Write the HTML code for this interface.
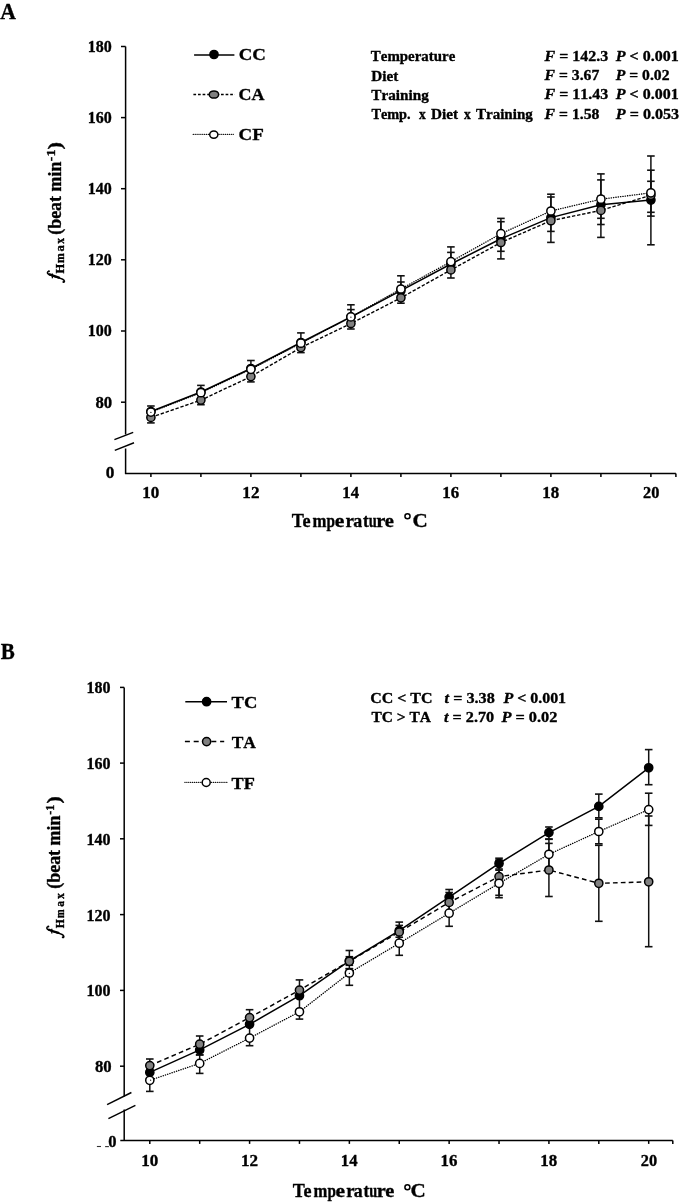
<!DOCTYPE html>
<html><head><meta charset="utf-8"><style>
html,body{margin:0;padding:0;background:#fff;}
body{width:684px;height:1203px;overflow:hidden;}
svg{display:block;will-change:transform;font-family:"Liberation Serif",serif;font-kerning:none;}
text{fill:#000;white-space:pre;stroke:#000;stroke-width:0.35;stroke-linejoin:round;}
.ax{stroke:#000;stroke-width:1.5;fill:none;}
.eb{stroke:#111;stroke-width:1.5;fill:none;}
.cap{stroke:#111;stroke-width:1.6;fill:none;}
.lk{stroke:#000;stroke-width:1.5;fill:none;}
.lg{stroke:#000;stroke-width:1.4;fill:none;stroke-dasharray:3.4 1.8;}
.lw{stroke:#000;stroke-width:1.35;fill:none;stroke-dasharray:0.25 2.1;stroke-linecap:round;}
.lgb{stroke:#000;stroke-width:1.45;fill:none;stroke-dasharray:4.7 3.2;}
.lgl{stroke:#000;stroke-width:1.4;fill:none;stroke-dasharray:2.7 1.9;}
.lwl{stroke:#000;stroke-width:1.3;fill:none;stroke-dasharray:0.2 1.7;stroke-linecap:round;}
.lglb{stroke:#000;stroke-width:1.4;fill:none;stroke-dasharray:5 3.8;}
.mk{fill:#000;stroke:#000;stroke-width:1.5;}
.mg{fill:#808080;stroke:#000;stroke-width:1.5;}
.mw{fill:#fff;stroke:#000;stroke-width:1.5;}
</style></head><body>
<svg width="684" height="1203" viewBox="0 0 684 1203">
<path d="M125.60 46.50 V434.50" class="ax"/>
<path d="M125.60 448.50 V473.40" class="ax"/>
<path d="M114.40 439.60 L133.20 432.40" class="ax"/>
<path d="M114.80 450.40 L134.00 442.80" class="ax"/>
<path d="M121.00 46.50 H125.60" class="ax"/>
<path d="M121.00 117.60 H125.60" class="ax"/>
<path d="M121.00 188.70 H125.60" class="ax"/>
<path d="M121.00 259.80 H125.60" class="ax"/>
<path d="M121.00 331.00 H125.60" class="ax"/>
<path d="M121.00 402.20 H125.60" class="ax"/>
<path d="M124.90 473.40 H675.90" class="ax"/>
<path d="M150.90 473.40 V477.00" class="ax"/>
<path d="M200.90 473.40 V477.00" class="ax"/>
<path d="M250.90 473.40 V477.00" class="ax"/>
<path d="M300.90 473.40 V477.00" class="ax"/>
<path d="M350.90 473.40 V477.00" class="ax"/>
<path d="M400.90 473.40 V477.00" class="ax"/>
<path d="M450.90 473.40 V477.00" class="ax"/>
<path d="M500.90 473.40 V477.00" class="ax"/>
<path d="M550.90 473.40 V477.00" class="ax"/>
<path d="M600.90 473.40 V477.00" class="ax"/>
<path d="M650.90 473.40 V477.00" class="ax"/>
<path d="M675.90 473.40 V477.00" class="ax"/>
<path d="M150.90 406.00 V418.00" class="eb"/>
<path d="M147.10 406.00 H154.70" class="cap"/>
<path d="M147.10 418.00 H154.70" class="cap"/>
<path d="M150.90 412.00 V422.90" class="eb"/>
<path d="M147.10 412.00 H154.70" class="cap"/>
<path d="M147.10 422.90 H154.70" class="cap"/>
<path d="M200.90 385.40 V400.00" class="eb"/>
<path d="M197.10 385.40 H204.70" class="cap"/>
<path d="M197.10 400.00 H204.70" class="cap"/>
<path d="M200.90 395.50 V404.70" class="eb"/>
<path d="M197.10 395.50 H204.70" class="cap"/>
<path d="M197.10 404.70 H204.70" class="cap"/>
<path d="M250.90 360.50 V378.00" class="eb"/>
<path d="M247.10 360.50 H254.70" class="cap"/>
<path d="M247.10 378.00 H254.70" class="cap"/>
<path d="M250.90 371.30 V381.90" class="eb"/>
<path d="M247.10 371.30 H254.70" class="cap"/>
<path d="M247.10 381.90 H254.70" class="cap"/>
<path d="M300.90 332.90 V352.60" class="eb"/>
<path d="M297.10 332.90 H304.70" class="cap"/>
<path d="M297.10 352.60 H304.70" class="cap"/>
<path d="M350.90 304.80 V329.00" class="eb"/>
<path d="M347.10 304.80 H354.70" class="cap"/>
<path d="M347.10 329.00 H354.70" class="cap"/>
<path d="M350.90 309.60 V324.40" class="eb"/>
<path d="M347.10 309.60 H354.70" class="cap"/>
<path d="M347.10 324.40 H354.70" class="cap"/>
<path d="M400.90 275.80 V303.20" class="eb"/>
<path d="M397.10 275.80 H404.70" class="cap"/>
<path d="M397.10 303.20 H404.70" class="cap"/>
<path d="M400.90 282.00 V299.40" class="eb"/>
<path d="M397.10 282.00 H404.70" class="cap"/>
<path d="M397.10 299.40 H404.70" class="cap"/>
<path d="M450.90 246.90 V278.00" class="eb"/>
<path d="M447.10 246.90 H454.70" class="cap"/>
<path d="M447.10 278.00 H454.70" class="cap"/>
<path d="M450.90 252.40 V271.00" class="eb"/>
<path d="M447.10 252.40 H454.70" class="cap"/>
<path d="M447.10 271.00 H454.70" class="cap"/>
<path d="M500.90 218.40 V251.30" class="eb"/>
<path d="M497.10 218.40 H504.70" class="cap"/>
<path d="M497.10 251.30 H504.70" class="cap"/>
<path d="M500.90 221.70 V258.90" class="eb"/>
<path d="M497.10 221.70 H504.70" class="cap"/>
<path d="M497.10 258.90 H504.70" class="cap"/>
<path d="M550.90 194.20 V231.40" class="eb"/>
<path d="M547.10 194.20 H554.70" class="cap"/>
<path d="M547.10 231.40 H554.70" class="cap"/>
<path d="M550.90 197.00 V242.40" class="eb"/>
<path d="M547.10 197.00 H554.70" class="cap"/>
<path d="M547.10 242.40 H554.70" class="cap"/>
<path d="M600.90 173.90 V237.40" class="eb"/>
<path d="M597.10 173.90 H604.70" class="cap"/>
<path d="M597.10 237.40 H604.70" class="cap"/>
<path d="M600.90 179.90 V218.30" class="eb"/>
<path d="M597.10 179.90 H604.70" class="cap"/>
<path d="M597.10 218.30 H604.70" class="cap"/>
<path d="M600.90 196.30 V224.50" class="eb"/>
<path d="M597.10 196.30 H604.70" class="cap"/>
<path d="M597.10 224.50 H604.70" class="cap"/>
<path d="M650.90 156.00 V244.80" class="eb"/>
<path d="M647.10 156.00 H654.70" class="cap"/>
<path d="M647.10 244.80 H654.70" class="cap"/>
<path d="M650.90 170.20 V216.10" class="eb"/>
<path d="M647.10 170.20 H654.70" class="cap"/>
<path d="M647.10 216.10 H654.70" class="cap"/>
<path d="M650.90 181.30 V212.30" class="eb"/>
<path d="M647.10 181.30 H654.70" class="cap"/>
<path d="M647.10 212.30 H654.70" class="cap"/>
<polyline points="150.90,411.50 200.90,392.00 250.90,368.50 300.90,342.50 350.90,317.00 400.90,290.70 450.90,264.00 500.90,238.80 550.90,217.60 600.90,204.80 650.90,200.10" class="lk"/>
<polyline points="150.90,417.40 200.90,400.10 250.90,376.60 300.90,347.60 350.90,323.50 400.90,297.80 450.90,269.90 500.90,242.50 550.90,220.70 600.90,210.40 650.90,195.30" class="lg"/>
<polyline points="150.90,412.10 200.90,392.70 250.90,369.30 300.90,343.20 350.90,316.90 400.90,289.00 450.90,261.60 500.90,233.70 550.90,211.00 600.90,199.20 650.90,192.80" class="lw"/>
<circle cx="150.90" cy="411.50" r="4.10" class="mk"/>
<circle cx="200.90" cy="392.00" r="4.10" class="mk"/>
<circle cx="250.90" cy="368.50" r="4.10" class="mk"/>
<circle cx="300.90" cy="342.50" r="4.10" class="mk"/>
<circle cx="350.90" cy="317.00" r="4.10" class="mk"/>
<circle cx="400.90" cy="290.70" r="4.10" class="mk"/>
<circle cx="450.90" cy="264.00" r="4.10" class="mk"/>
<circle cx="500.90" cy="238.80" r="4.10" class="mk"/>
<circle cx="550.90" cy="217.60" r="4.10" class="mk"/>
<circle cx="600.90" cy="204.80" r="4.10" class="mk"/>
<circle cx="650.90" cy="200.10" r="4.10" class="mk"/>
<circle cx="150.90" cy="417.40" r="4.10" class="mg"/>
<circle cx="200.90" cy="400.10" r="4.10" class="mg"/>
<circle cx="250.90" cy="376.60" r="4.10" class="mg"/>
<circle cx="300.90" cy="347.60" r="4.10" class="mg"/>
<circle cx="350.90" cy="323.50" r="4.10" class="mg"/>
<circle cx="400.90" cy="297.80" r="4.10" class="mg"/>
<circle cx="450.90" cy="269.90" r="4.10" class="mg"/>
<circle cx="500.90" cy="242.50" r="4.10" class="mg"/>
<circle cx="550.90" cy="220.70" r="4.10" class="mg"/>
<circle cx="600.90" cy="210.40" r="4.10" class="mg"/>
<circle cx="650.90" cy="195.30" r="4.10" class="mg"/>
<circle cx="150.90" cy="412.10" r="4.10" class="mw"/>
<circle cx="200.90" cy="392.70" r="4.10" class="mw"/>
<circle cx="250.90" cy="369.30" r="4.10" class="mw"/>
<circle cx="300.90" cy="343.20" r="4.10" class="mw"/>
<circle cx="350.90" cy="316.90" r="4.10" class="mw"/>
<circle cx="400.90" cy="289.00" r="4.10" class="mw"/>
<circle cx="450.90" cy="261.60" r="4.10" class="mw"/>
<circle cx="500.90" cy="233.70" r="4.10" class="mw"/>
<circle cx="550.90" cy="211.00" r="4.10" class="mw"/>
<circle cx="600.90" cy="199.20" r="4.10" class="mw"/>
<circle cx="650.90" cy="192.80" r="4.10" class="mw"/>
<path d="M194.10 55.00 H234.40" class="lk"/>
<ellipse cx="214.00" cy="54.50" rx="4.10" ry="4.10" class="mk"/>
<text x="238.68" y="59.90" font-size="17.50" style="font-weight:bold;" textLength="27.15" lengthAdjust="spacingAndGlyphs">CC</text>
<path d="M193.40 94.50 H234.90" class="lgl"/>
<ellipse cx="213.95" cy="94.50" rx="4.70" ry="3.60" class="mg"/>
<text x="238.62" y="99.90" font-size="17.50" style="font-weight:bold;" textLength="25.91" lengthAdjust="spacingAndGlyphs">CA</text>
<path d="M193.20 134.30 H233.70" class="lwl"/>
<ellipse cx="213.80" cy="134.60" rx="4.10" ry="3.70" class="mw"/>
<text x="238.58" y="139.70" font-size="17.50" style="font-weight:bold;" textLength="25.23" lengthAdjust="spacingAndGlyphs">CF</text>
<path d="M124.20 687.40 V1096.50" class="ax"/>
<path d="M124.20 1109.50 V1140.50" class="ax"/>
<path d="M107.10 1104.60 L131.40 1092.50" class="ax"/>
<path d="M108.40 1118.60 L135.40 1105.40" class="ax"/>
<path d="M120.00 687.40 H124.20" class="ax"/>
<path d="M120.00 763.10 H124.20" class="ax"/>
<path d="M120.00 838.80 H124.20" class="ax"/>
<path d="M120.00 914.60 H124.20" class="ax"/>
<path d="M120.00 990.40 H124.20" class="ax"/>
<path d="M120.00 1066.20 H124.20" class="ax"/>
<path d="M120.30 1140.50 H672.80" class="ax"/>
<path d="M149.80 1140.50 V1143.90" class="ax"/>
<path d="M199.69 1140.50 V1143.90" class="ax"/>
<path d="M249.58 1140.50 V1143.90" class="ax"/>
<path d="M299.47 1140.50 V1143.90" class="ax"/>
<path d="M349.36 1140.50 V1143.90" class="ax"/>
<path d="M399.25 1140.50 V1143.90" class="ax"/>
<path d="M449.14 1140.50 V1143.90" class="ax"/>
<path d="M499.03 1140.50 V1143.90" class="ax"/>
<path d="M548.92 1140.50 V1143.90" class="ax"/>
<path d="M598.81 1140.50 V1143.90" class="ax"/>
<path d="M648.70 1140.50 V1143.90" class="ax"/>
<path d="M672.80 1140.50 V1143.90" class="ax"/>
<path d="M149.80 1059.00 V1072.20" class="eb"/>
<path d="M146.00 1059.00 H153.60" class="cap"/>
<path d="M146.00 1072.20 H153.60" class="cap"/>
<path d="M149.80 1069.30 V1091.40" class="eb"/>
<path d="M146.00 1069.30 H153.60" class="cap"/>
<path d="M146.00 1091.40 H153.60" class="cap"/>
<path d="M199.69 1036.00 V1052.40" class="eb"/>
<path d="M195.89 1036.00 H203.49" class="cap"/>
<path d="M195.89 1052.40 H203.49" class="cap"/>
<path d="M199.69 1045.00 V1054.90" class="eb"/>
<path d="M195.89 1045.00 H203.49" class="cap"/>
<path d="M195.89 1054.90 H203.49" class="cap"/>
<path d="M199.69 1054.90 V1073.40" class="eb"/>
<path d="M195.89 1054.90 H203.49" class="cap"/>
<path d="M195.89 1073.40 H203.49" class="cap"/>
<path d="M249.58 1009.70 V1045.70" class="eb"/>
<path d="M245.78 1009.70 H253.38" class="cap"/>
<path d="M245.78 1045.70 H253.38" class="cap"/>
<path d="M299.47 979.90 V1019.10" class="eb"/>
<path d="M295.67 979.90 H303.27" class="cap"/>
<path d="M295.67 1019.10 H303.27" class="cap"/>
<path d="M349.36 950.50 V968.70" class="eb"/>
<path d="M345.56 950.50 H353.16" class="cap"/>
<path d="M345.56 968.70 H353.16" class="cap"/>
<path d="M349.36 956.70 V965.30" class="eb"/>
<path d="M345.56 956.70 H353.16" class="cap"/>
<path d="M345.56 965.30 H353.16" class="cap"/>
<path d="M349.36 968.70 V985.30" class="eb"/>
<path d="M345.56 968.70 H353.16" class="cap"/>
<path d="M345.56 985.30 H353.16" class="cap"/>
<path d="M399.25 922.10 V941.90" class="eb"/>
<path d="M395.45 922.10 H403.05" class="cap"/>
<path d="M395.45 941.90 H403.05" class="cap"/>
<path d="M399.25 925.40 V937.20" class="eb"/>
<path d="M395.45 925.40 H403.05" class="cap"/>
<path d="M395.45 937.20 H403.05" class="cap"/>
<path d="M399.25 931.10 V955.30" class="eb"/>
<path d="M395.45 931.10 H403.05" class="cap"/>
<path d="M395.45 955.30 H403.05" class="cap"/>
<path d="M449.14 889.50 V904.70" class="eb"/>
<path d="M445.34 889.50 H452.94" class="cap"/>
<path d="M445.34 904.70 H452.94" class="cap"/>
<path d="M449.14 892.50 V912.30" class="eb"/>
<path d="M445.34 892.50 H452.94" class="cap"/>
<path d="M445.34 912.30 H452.94" class="cap"/>
<path d="M449.14 900.10 V926.30" class="eb"/>
<path d="M445.34 900.10 H452.94" class="cap"/>
<path d="M445.34 926.30 H452.94" class="cap"/>
<path d="M499.03 858.20 V870.20" class="eb"/>
<path d="M495.23 858.20 H502.83" class="cap"/>
<path d="M495.23 870.20 H502.83" class="cap"/>
<path d="M499.03 860.00 V895.30" class="eb"/>
<path d="M495.23 860.00 H502.83" class="cap"/>
<path d="M495.23 895.30 H502.83" class="cap"/>
<path d="M499.03 869.00 V897.70" class="eb"/>
<path d="M495.23 869.00 H502.83" class="cap"/>
<path d="M495.23 897.70 H502.83" class="cap"/>
<path d="M548.92 827.00 V839.00" class="eb"/>
<path d="M545.12 827.00 H552.72" class="cap"/>
<path d="M545.12 839.00 H552.72" class="cap"/>
<path d="M548.92 839.30 V869.30" class="eb"/>
<path d="M545.12 839.30 H552.72" class="cap"/>
<path d="M545.12 869.30 H552.72" class="cap"/>
<path d="M548.92 843.40 V896.50" class="eb"/>
<path d="M545.12 843.40 H552.72" class="cap"/>
<path d="M545.12 896.50 H552.72" class="cap"/>
<path d="M598.81 794.10 V817.80" class="eb"/>
<path d="M595.01 794.10 H602.61" class="cap"/>
<path d="M595.01 817.80 H602.61" class="cap"/>
<path d="M598.81 819.20 V843.80" class="eb"/>
<path d="M595.01 819.20 H602.61" class="cap"/>
<path d="M595.01 843.80 H602.61" class="cap"/>
<path d="M598.81 845.30 V921.30" class="eb"/>
<path d="M595.01 845.30 H602.61" class="cap"/>
<path d="M595.01 921.30 H602.61" class="cap"/>
<path d="M648.70 749.60 V784.70" class="eb"/>
<path d="M644.90 749.60 H652.50" class="cap"/>
<path d="M644.90 784.70 H652.50" class="cap"/>
<path d="M648.70 793.20 V825.40" class="eb"/>
<path d="M644.90 793.20 H652.50" class="cap"/>
<path d="M644.90 825.40 H652.50" class="cap"/>
<path d="M648.70 816.00 V946.70" class="eb"/>
<path d="M644.90 816.00 H652.50" class="cap"/>
<path d="M644.90 946.70 H652.50" class="cap"/>
<polyline points="149.80,1072.40 199.69,1049.90 249.58,1024.30 299.47,995.70 349.36,961.00 399.25,930.70 449.14,897.10 499.03,863.50 548.92,832.60 598.81,806.40 648.70,767.80" class="lk"/>
<polyline points="149.80,1065.60 199.69,1044.20 249.58,1017.60 299.47,990.10 349.36,961.30 399.25,932.00 449.14,902.40 499.03,876.60 548.92,870.00 598.81,883.30 648.70,881.80" class="lgb"/>
<polyline points="149.80,1080.30 199.69,1063.40 249.58,1038.10 299.47,1011.80 349.36,973.00 399.25,943.20 449.14,913.20 499.03,883.30 548.92,854.30 598.81,831.50 648.70,809.60" class="lw"/>
<circle cx="149.80" cy="1072.40" r="4.10" class="mk"/>
<circle cx="199.69" cy="1049.90" r="4.10" class="mk"/>
<circle cx="249.58" cy="1024.30" r="4.10" class="mk"/>
<circle cx="299.47" cy="995.70" r="4.10" class="mk"/>
<circle cx="349.36" cy="961.00" r="4.10" class="mk"/>
<circle cx="399.25" cy="930.70" r="4.10" class="mk"/>
<circle cx="449.14" cy="897.10" r="4.10" class="mk"/>
<circle cx="499.03" cy="863.50" r="4.10" class="mk"/>
<circle cx="548.92" cy="832.60" r="4.10" class="mk"/>
<circle cx="598.81" cy="806.40" r="4.10" class="mk"/>
<circle cx="648.70" cy="767.80" r="4.10" class="mk"/>
<circle cx="149.80" cy="1065.60" r="4.10" class="mg"/>
<circle cx="199.69" cy="1044.20" r="4.10" class="mg"/>
<circle cx="249.58" cy="1017.60" r="4.10" class="mg"/>
<circle cx="299.47" cy="990.10" r="4.10" class="mg"/>
<circle cx="349.36" cy="961.30" r="4.10" class="mg"/>
<circle cx="399.25" cy="932.00" r="4.10" class="mg"/>
<circle cx="449.14" cy="902.40" r="4.10" class="mg"/>
<circle cx="499.03" cy="876.60" r="4.10" class="mg"/>
<circle cx="548.92" cy="870.00" r="4.10" class="mg"/>
<circle cx="598.81" cy="883.30" r="4.10" class="mg"/>
<circle cx="648.70" cy="881.80" r="4.10" class="mg"/>
<circle cx="149.80" cy="1080.30" r="4.10" class="mw"/>
<circle cx="199.69" cy="1063.40" r="4.10" class="mw"/>
<circle cx="249.58" cy="1038.10" r="4.10" class="mw"/>
<circle cx="299.47" cy="1011.80" r="4.10" class="mw"/>
<circle cx="349.36" cy="973.00" r="4.10" class="mw"/>
<circle cx="399.25" cy="943.20" r="4.10" class="mw"/>
<circle cx="449.14" cy="913.20" r="4.10" class="mw"/>
<circle cx="499.03" cy="883.30" r="4.10" class="mw"/>
<circle cx="548.92" cy="854.30" r="4.10" class="mw"/>
<circle cx="598.81" cy="831.50" r="4.10" class="mw"/>
<circle cx="648.70" cy="809.60" r="4.10" class="mw"/>
<path d="M185.30 701.70 H227.00" class="lk"/>
<ellipse cx="206.60" cy="701.70" rx="4.10" ry="4.10" class="mk"/>
<text x="231.61" y="707.50" font-size="17.50" style="font-weight:bold;" textLength="25.70" lengthAdjust="spacingAndGlyphs">TC</text>
<path d="M184.90 741.50 H224.20" class="lglb"/>
<ellipse cx="206.60" cy="741.60" rx="4.10" ry="4.10" class="mg"/>
<text x="231.63" y="748.00" font-size="17.50" style="font-weight:bold;" textLength="24.20" lengthAdjust="spacingAndGlyphs">TA</text>
<path d="M184.90 782.30 H227.50" class="lwl"/>
<ellipse cx="206.20" cy="782.50" rx="4.00" ry="3.90" class="mw"/>
<text x="231.62" y="788.90" font-size="17.50" style="font-weight:bold;" textLength="23.26" lengthAdjust="spacingAndGlyphs">TF</text>
<circle cx="150.90" cy="412.40" r="0.65" fill="#111"/>
<circle cx="350.90" cy="317.20" r="0.65" fill="#111"/>
<circle cx="150.60" cy="1080.20" r="0.65" fill="#111"/>
<circle cx="349.36" cy="973.40" r="0.65" fill="#111"/>
<path d="M96.9 1146.5 H101" stroke="#333" stroke-width="1.1"/>
<path d="M105.1 1146.6 H108.9" stroke="#333" stroke-width="1.1"/>
<text x="0.29" y="18.70" font-size="23.00" style="font-weight:bold;" textLength="15.67" lengthAdjust="spacingAndGlyphs">A</text>
<text x="0.85" y="659.30" font-size="23.00" style="font-weight:bold;" textLength="14.03" lengthAdjust="spacingAndGlyphs">B</text>
<text x="87.82" y="51.90" font-size="16.50" style="font-weight:bold;" textLength="23.99" lengthAdjust="spacingAndGlyphs">180</text>
<text x="87.82" y="123.00" font-size="16.50" style="font-weight:bold;" textLength="23.99" lengthAdjust="spacingAndGlyphs">160</text>
<text x="87.82" y="194.10" font-size="16.50" style="font-weight:bold;" textLength="23.99" lengthAdjust="spacingAndGlyphs">140</text>
<text x="87.82" y="265.20" font-size="16.50" style="font-weight:bold;" textLength="23.99" lengthAdjust="spacingAndGlyphs">120</text>
<text x="87.82" y="336.40" font-size="16.50" style="font-weight:bold;" textLength="23.99" lengthAdjust="spacingAndGlyphs">100</text>
<text x="95.45" y="407.60" font-size="16.50" style="font-weight:bold;" textLength="16.69" lengthAdjust="spacingAndGlyphs">80</text>
<text x="105.74" y="478.20" font-size="16.50" style="font-weight:bold;" textLength="8.61" lengthAdjust="spacingAndGlyphs">0</text>
<text x="86.62" y="693.30" font-size="16.50" style="font-weight:bold;" textLength="23.99" lengthAdjust="spacingAndGlyphs">180</text>
<text x="86.62" y="769.00" font-size="16.50" style="font-weight:bold;" textLength="23.99" lengthAdjust="spacingAndGlyphs">160</text>
<text x="86.62" y="844.70" font-size="16.50" style="font-weight:bold;" textLength="23.99" lengthAdjust="spacingAndGlyphs">140</text>
<text x="86.62" y="920.50" font-size="16.50" style="font-weight:bold;" textLength="23.99" lengthAdjust="spacingAndGlyphs">120</text>
<text x="86.62" y="996.30" font-size="16.50" style="font-weight:bold;" textLength="23.99" lengthAdjust="spacingAndGlyphs">100</text>
<text x="94.95" y="1072.10" font-size="16.50" style="font-weight:bold;" textLength="16.69" lengthAdjust="spacingAndGlyphs">80</text>
<text x="108.27" y="1146.80" font-size="16.50" style="font-weight:bold;" textLength="8.26" lengthAdjust="spacingAndGlyphs">0</text>
<text x="142.34" y="497.60" font-size="16.20" style="font-weight:bold;" textLength="17.01" lengthAdjust="spacingAndGlyphs">10</text>
<text x="242.33" y="497.60" font-size="16.20" style="font-weight:bold;" textLength="17.10" lengthAdjust="spacingAndGlyphs">12</text>
<text x="342.37" y="497.60" font-size="16.20" style="font-weight:bold;" textLength="16.64" lengthAdjust="spacingAndGlyphs">14</text>
<text x="442.35" y="497.60" font-size="16.20" style="font-weight:bold;" textLength="16.84" lengthAdjust="spacingAndGlyphs">16</text>
<text x="542.35" y="497.60" font-size="16.20" style="font-weight:bold;" textLength="16.92" lengthAdjust="spacingAndGlyphs">18</text>
<text x="643.02" y="497.60" font-size="16.20" style="font-weight:bold;" textLength="16.31" lengthAdjust="spacingAndGlyphs">20</text>
<text x="141.24" y="1165.80" font-size="16.20" style="font-weight:bold;" textLength="17.01" lengthAdjust="spacingAndGlyphs">10</text>
<text x="241.01" y="1165.80" font-size="16.20" style="font-weight:bold;" textLength="17.10" lengthAdjust="spacingAndGlyphs">12</text>
<text x="340.83" y="1165.80" font-size="16.20" style="font-weight:bold;" textLength="16.64" lengthAdjust="spacingAndGlyphs">14</text>
<text x="440.59" y="1165.80" font-size="16.20" style="font-weight:bold;" textLength="16.84" lengthAdjust="spacingAndGlyphs">16</text>
<text x="540.37" y="1165.80" font-size="16.20" style="font-weight:bold;" textLength="16.92" lengthAdjust="spacingAndGlyphs">18</text>
<text x="640.82" y="1165.80" font-size="16.20" style="font-weight:bold;" textLength="16.31" lengthAdjust="spacingAndGlyphs">20</text>
<text x="291.72" y="526.70" font-size="19.20" style="font-weight:bold;" textLength="12.16" lengthAdjust="spacingAndGlyphs">T</text>
<text x="302.58" y="526.70" font-size="19.20" style="font-weight:bold;" textLength="8.10" lengthAdjust="spacingAndGlyphs">e</text>
<text x="312.55" y="526.70" font-size="19.20" style="font-weight:bold;" textLength="13.94" lengthAdjust="spacingAndGlyphs">m</text>
<text x="326.61" y="526.70" font-size="19.20" style="font-weight:bold;" textLength="8.51" lengthAdjust="spacingAndGlyphs">p</text>
<text x="334.86" y="526.70" font-size="19.20" style="font-weight:bold;" textLength="9.60" lengthAdjust="spacingAndGlyphs">e</text>
<text x="345.59" y="526.70" font-size="19.20" style="font-weight:bold;" textLength="8.42" lengthAdjust="spacingAndGlyphs">r</text>
<text x="353.22" y="526.70" font-size="19.20" style="font-weight:bold;" textLength="8.95" lengthAdjust="spacingAndGlyphs">a</text>
<text x="362.92" y="526.70" font-size="19.20" style="font-weight:bold;" textLength="5.75" lengthAdjust="spacingAndGlyphs">t</text>
<text x="368.78" y="526.70" font-size="19.20" style="font-weight:bold;" textLength="8.00" lengthAdjust="spacingAndGlyphs">u</text>
<text x="376.35" y="526.70" font-size="19.20" style="font-weight:bold;" textLength="9.09" lengthAdjust="spacingAndGlyphs">r</text>
<text x="384.70" y="526.70" font-size="19.20" style="font-weight:bold;" textLength="9.14" lengthAdjust="spacingAndGlyphs">e</text>
<circle cx="407.5" cy="516.3" r="2.55" fill="none" stroke="#000" stroke-width="1.5"/>
<text x="412.47" y="527.00" font-size="19.20" style="font-weight:bold;" textLength="15.24" lengthAdjust="spacingAndGlyphs">C</text>
<text x="292.72" y="1196.60" font-size="19.20" style="font-weight:bold;" textLength="12.09" lengthAdjust="spacingAndGlyphs">T</text>
<text x="303.51" y="1196.60" font-size="19.20" style="font-weight:bold;" textLength="8.05" lengthAdjust="spacingAndGlyphs">e</text>
<text x="313.43" y="1196.60" font-size="19.20" style="font-weight:bold;" textLength="13.85" lengthAdjust="spacingAndGlyphs">m</text>
<text x="327.40" y="1196.60" font-size="19.20" style="font-weight:bold;" textLength="8.46" lengthAdjust="spacingAndGlyphs">p</text>
<text x="335.61" y="1196.60" font-size="19.20" style="font-weight:bold;" textLength="9.54" lengthAdjust="spacingAndGlyphs">e</text>
<text x="346.27" y="1196.60" font-size="19.20" style="font-weight:bold;" textLength="8.37" lengthAdjust="spacingAndGlyphs">r</text>
<text x="353.86" y="1196.60" font-size="19.20" style="font-weight:bold;" textLength="8.89" lengthAdjust="spacingAndGlyphs">a</text>
<text x="363.50" y="1196.60" font-size="19.20" style="font-weight:bold;" textLength="5.72" lengthAdjust="spacingAndGlyphs">t</text>
<text x="369.33" y="1196.60" font-size="19.20" style="font-weight:bold;" textLength="7.96" lengthAdjust="spacingAndGlyphs">u</text>
<text x="376.85" y="1196.60" font-size="19.20" style="font-weight:bold;" textLength="9.04" lengthAdjust="spacingAndGlyphs">r</text>
<text x="385.15" y="1196.60" font-size="19.20" style="font-weight:bold;" textLength="9.08" lengthAdjust="spacingAndGlyphs">e</text>
<circle cx="407.4" cy="1187.3" r="2.5" fill="none" stroke="#000" stroke-width="1.5"/>
<text x="410.47" y="1197.00" font-size="19.20" style="font-weight:bold;" textLength="15.24" lengthAdjust="spacingAndGlyphs">C</text>
<text x="370.87" y="61.40" font-size="15.00" style="font-weight:bold;" textLength="84.42" lengthAdjust="spacingAndGlyphs">Temperature</text>
<text x="371.33" y="80.60" font-size="15.00" style="font-weight:bold;" textLength="27.03" lengthAdjust="spacingAndGlyphs">Diet</text>
<text x="371.36" y="99.50" font-size="15.00" style="font-weight:bold;" textLength="57.49" lengthAdjust="spacingAndGlyphs">Training</text>
<text x="371.38" y="119.40" font-size="15.00" style="font-weight:bold;" textLength="39.25" lengthAdjust="spacingAndGlyphs">Temp.</text>
<text x="419.05" y="119.40" font-size="15.00" style="font-weight:bold;" textLength="6.72" lengthAdjust="spacingAndGlyphs">x</text>
<text x="430.93" y="119.40" font-size="15.00" style="font-weight:bold;" textLength="27.03" lengthAdjust="spacingAndGlyphs">Diet</text>
<text x="464.05" y="119.40" font-size="15.00" style="font-weight:bold;" textLength="6.72" lengthAdjust="spacingAndGlyphs">x</text>
<text x="475.97" y="119.40" font-size="15.00" style="font-weight:bold;" textLength="56.78" lengthAdjust="spacingAndGlyphs">Training</text>
<text x="544.62" y="61.40" font-size="15.00" style="font-weight:bold;font-style:italic;" textLength="10.66" lengthAdjust="spacingAndGlyphs">F</text>
<text x="555.28" y="61.40" font-size="15.00" style="font-weight:bold;" textLength="53.07" lengthAdjust="spacingAndGlyphs"> = 142.3</text>
<text x="615.81" y="61.40" font-size="15.00" style="font-weight:bold;font-style:italic;" textLength="9.78" lengthAdjust="spacingAndGlyphs">P</text>
<text x="625.59" y="61.40" font-size="15.00" style="font-weight:bold;" textLength="53.14" lengthAdjust="spacingAndGlyphs"> &lt; 0.001</text>
<text x="544.62" y="80.00" font-size="15.00" style="font-weight:bold;font-style:italic;" textLength="10.46" lengthAdjust="spacingAndGlyphs">F</text>
<text x="555.07" y="80.00" font-size="15.00" style="font-weight:bold;" textLength="44.21" lengthAdjust="spacingAndGlyphs"> = 3.67</text>
<text x="615.81" y="80.00" font-size="15.00" style="font-weight:bold;font-style:italic;" textLength="9.56" lengthAdjust="spacingAndGlyphs">P</text>
<text x="625.36" y="80.00" font-size="15.00" style="font-weight:bold;" textLength="44.11" lengthAdjust="spacingAndGlyphs"> = 0.02</text>
<text x="544.62" y="99.30" font-size="15.00" style="font-weight:bold;font-style:italic;" textLength="10.66" lengthAdjust="spacingAndGlyphs">F</text>
<text x="555.28" y="99.30" font-size="15.00" style="font-weight:bold;" textLength="53.07" lengthAdjust="spacingAndGlyphs"> = 11.43</text>
<text x="615.81" y="99.30" font-size="15.00" style="font-weight:bold;font-style:italic;" textLength="9.78" lengthAdjust="spacingAndGlyphs">P</text>
<text x="625.59" y="99.30" font-size="15.00" style="font-weight:bold;" textLength="53.14" lengthAdjust="spacingAndGlyphs"> &lt; 0.001</text>
<text x="544.62" y="119.20" font-size="15.00" style="font-weight:bold;font-style:italic;" textLength="10.48" lengthAdjust="spacingAndGlyphs">F</text>
<text x="555.10" y="119.20" font-size="15.00" style="font-weight:bold;" textLength="44.32" lengthAdjust="spacingAndGlyphs"> = 1.58</text>
<text x="615.81" y="119.20" font-size="15.00" style="font-weight:bold;font-style:italic;" textLength="9.84" lengthAdjust="spacingAndGlyphs">P</text>
<text x="625.65" y="119.20" font-size="15.00" style="font-weight:bold;" textLength="53.50" lengthAdjust="spacingAndGlyphs"> = 0.053</text>
<text x="370.32" y="703.40" font-size="15.00" style="font-weight:bold;" textLength="62.19" lengthAdjust="spacingAndGlyphs">CC &lt; TC</text>
<text x="371.56" y="722.00" font-size="15.00" style="font-weight:bold;" textLength="59.45" lengthAdjust="spacingAndGlyphs">TC &gt; TA</text>
<text x="444.61" y="703.40" font-size="15.00" style="font-weight:bold;font-style:italic;" textLength="4.50" lengthAdjust="spacingAndGlyphs">t</text>
<text x="449.11" y="703.40" font-size="15.00" style="font-weight:bold;" textLength="45.63" lengthAdjust="spacingAndGlyphs"> = 3.38</text>
<text x="503.41" y="703.40" font-size="15.00" style="font-weight:bold;font-style:italic;" textLength="9.75" lengthAdjust="spacingAndGlyphs">P</text>
<text x="513.15" y="703.40" font-size="15.00" style="font-weight:bold;" textLength="52.97" lengthAdjust="spacingAndGlyphs"> &lt; 0.001</text>
<text x="444.01" y="722.00" font-size="15.00" style="font-weight:bold;font-style:italic;" textLength="4.50" lengthAdjust="spacingAndGlyphs">t</text>
<text x="448.51" y="722.00" font-size="15.00" style="font-weight:bold;" textLength="45.70" lengthAdjust="spacingAndGlyphs"> = 2.70</text>
<text x="501.41" y="722.00" font-size="15.00" style="font-weight:bold;font-style:italic;" textLength="9.97" lengthAdjust="spacingAndGlyphs">P</text>
<text x="511.38" y="722.00" font-size="15.00" style="font-weight:bold;" textLength="46.02" lengthAdjust="spacingAndGlyphs"> = 0.02</text>
<g transform="rotate(-90)">
<g transform="translate(-0.00 0.00)">
<path d="M-271.3 48.4 C-271.9 47.3 -273.2 47.0 -274.0 48.2 C-275.2 50.2 -276.4 54.0 -277.5 57.8 C-278.4 61.2 -279.4 63.9 -280.9 64.4 C-281.7 64.6 -282.3 64.1 -282.3 63.4" fill="none" stroke="#000" stroke-width="1.5"/>
<path d="M-274.4 49.6 C-275.4 52.2 -276.6 55.8 -277.6 59.0" fill="none" stroke="#000" stroke-width="2.3" stroke-linecap="round"/>
<circle cx="-271.2" cy="48.9" r="1.05"/>
<circle cx="-282.0" cy="63.4" r="1.05"/>
<path d="M-273.5 52.4 H-278.3" stroke="#000" stroke-width="1.3"/>
</g>
<text x="-273.41" y="64.10" font-size="13.00" style="font-weight:bold;" textLength="9.72" lengthAdjust="spacingAndGlyphs">H</text>
<text x="-262.91" y="64.10" font-size="13.00" style="font-weight:bold;" textLength="9.71" lengthAdjust="spacingAndGlyphs">m</text>
<text x="-251.41" y="64.10" font-size="13.00" style="font-weight:bold;" textLength="6.30" lengthAdjust="spacingAndGlyphs">a</text>
<text x="-243.84" y="64.10" font-size="13.00" style="font-weight:bold;" textLength="5.71" lengthAdjust="spacingAndGlyphs">x</text>
<text x="-234.79" y="60.60" font-size="18.50" style="font-weight:bold;" textLength="73.16" lengthAdjust="spacingAndGlyphs">(beat min</text>
<text x="-161.21" y="55.00" font-size="12.50" style="font-weight:bold;" textLength="11.52" lengthAdjust="spacingAndGlyphs">-1</text>
<text x="-149.54" y="60.60" font-size="18.50" style="font-weight:bold;" textLength="7.65" lengthAdjust="spacingAndGlyphs">)</text>
</g>
<g transform="rotate(-90)">
<g transform="translate(-655.30 -0.60)">
<path d="M-271.3 48.4 C-271.9 47.3 -273.2 47.0 -274.0 48.2 C-275.2 50.2 -276.4 54.0 -277.5 57.8 C-278.4 61.2 -279.4 63.9 -280.9 64.4 C-281.7 64.6 -282.3 64.1 -282.3 63.4" fill="none" stroke="#000" stroke-width="1.5"/>
<path d="M-274.4 49.6 C-275.4 52.2 -276.6 55.8 -277.6 59.0" fill="none" stroke="#000" stroke-width="2.3" stroke-linecap="round"/>
<circle cx="-271.2" cy="48.9" r="1.05"/>
<circle cx="-282.0" cy="63.4" r="1.05"/>
<path d="M-273.5 52.4 H-278.3" stroke="#000" stroke-width="1.3"/>
</g>
<text x="-928.20" y="63.90" font-size="13.00" style="font-weight:bold;" textLength="9.09" lengthAdjust="spacingAndGlyphs">H</text>
<text x="-917.88" y="63.90" font-size="13.00" style="font-weight:bold;" textLength="8.55" lengthAdjust="spacingAndGlyphs">m</text>
<text x="-906.77" y="63.90" font-size="13.00" style="font-weight:bold;" textLength="5.74" lengthAdjust="spacingAndGlyphs">a</text>
<text x="-898.95" y="63.90" font-size="13.00" style="font-weight:bold;" textLength="5.91" lengthAdjust="spacingAndGlyphs">x</text>
<text x="-888.79" y="60.00" font-size="18.50" style="font-weight:bold;" textLength="73.26" lengthAdjust="spacingAndGlyphs">(beat min</text>
<text x="-814.74" y="54.20" font-size="12.50" style="font-weight:bold;" textLength="10.07" lengthAdjust="spacingAndGlyphs">-1</text>
<text x="-803.40" y="60.00" font-size="18.50" style="font-weight:bold;" textLength="7.26" lengthAdjust="spacingAndGlyphs">)</text>
</g>
</svg>
</body></html>
